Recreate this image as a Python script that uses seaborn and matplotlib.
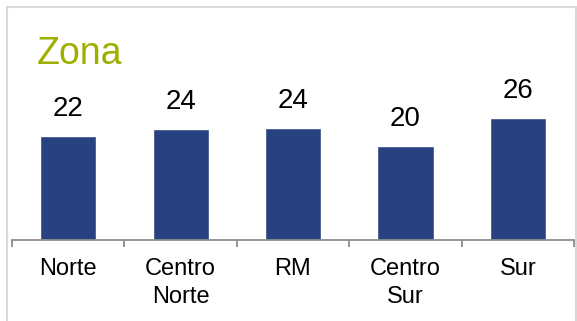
import seaborn as sns
import matplotlib.pyplot as plt
import pandas as pd
from matplotlib.patches import Rectangle

zonas = ["Norte", "Centro\nNorte", "RM", "Centro\nSur", "Sur"]
valores = [22.2, 23.6, 23.9, 20.0, 26.0]

df = pd.DataFrame({"Zona": zonas, "Valor": valores})

sns.set_style("white")
plt.rcParams['font.family'] = ['Liberation Sans', 'DejaVu Sans']

fig = plt.figure(figsize=(5.77, 3.21), dpi=100)
ax = fig.add_axes([12 / 577, 81 / 321, 562 / 577, 230 / 321])

sns.barplot(data=df, x="Zona", y="Valor", color="#27427F", width=0.5,
            saturation=1, ax=ax)

for i, v in enumerate(valores):
    ax.annotate(f"{v:.0f}", (i, v), xytext=(0, 10), textcoords="offset points",
                ha="center", va="bottom", fontsize=20, color="black")

ax.set_xlim(-0.5, len(zonas) - 0.5)
ax.set_ylim(0, 49)
ax.set_xlabel("")
ax.set_ylabel("")
ax.set_yticks([])
for s in ["left", "top", "right"]:
    ax.spines[s].set_visible(False)
ax.spines["bottom"].set_color("#8C8C8C")
ax.spines["bottom"].set_linewidth(1.3)

ax.set_xticks(range(len(zonas)))
ax.set_xticklabels(zonas, fontsize=17, linespacing=1.35, color="black")
ax.tick_params(axis="x", which="major", length=0, pad=13)
ax.set_xticks([i - 0.5 for i in range(len(zonas) + 1)], minor=True)
ax.tick_params(axis="x", which="minor", length=5, width=1.3, color="#8C8C8C",
               direction="out", bottom=True)

fig.text(37 / 577, 1 - 54 / 321, "Zona", fontsize=27, color="#9FAF00",
         ha="left", va="center")

fig.patches.append(Rectangle((7 / 577, -0.1), 568.5 / 577, 1.1 - 7 / 321,
                             transform=fig.transFigure, fill=False,
                             edgecolor="#D9D9D9", linewidth=1.5))

plt.savefig("out.png", dpi=100)
